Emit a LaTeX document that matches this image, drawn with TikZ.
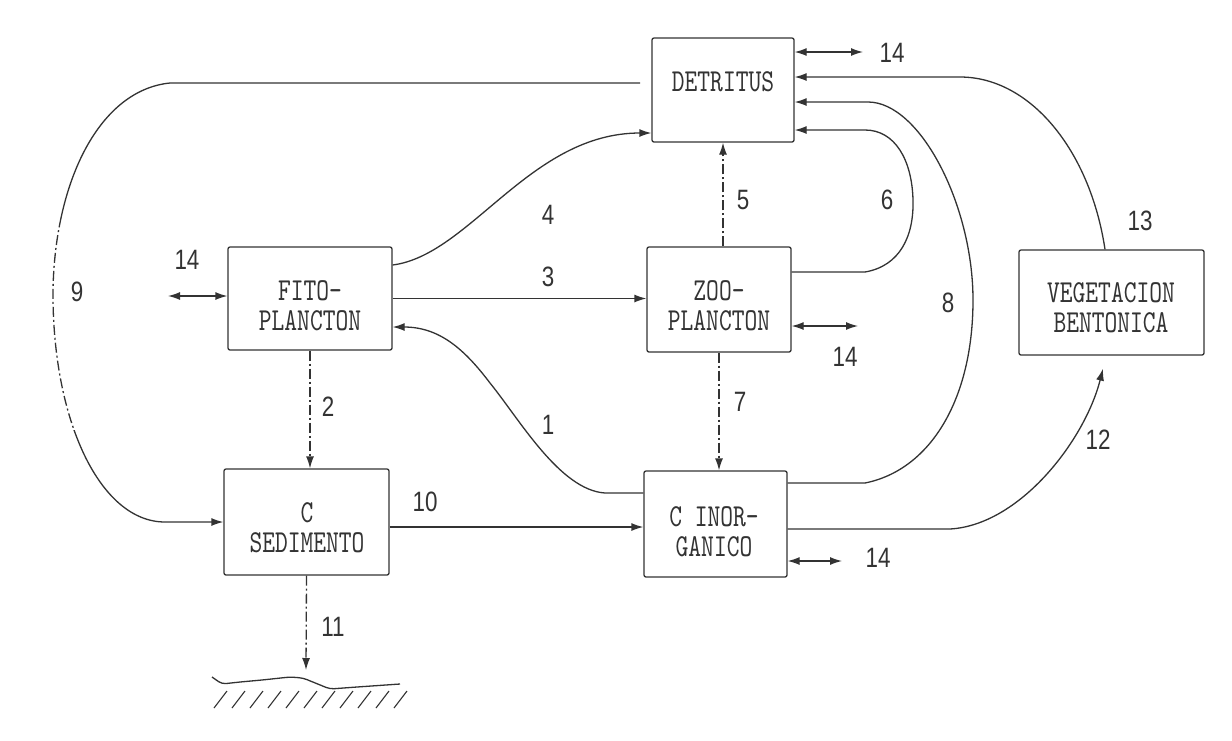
\documentclass[tikz,border=0pt]{standalone}
\usepackage{fontspec}
\usetikzlibrary{arrows.meta,calc}
\newfontfamily\boxfont{lmmono10-regular}[Extension=.otf, FakeStretch=0.76]
\newfontfamily\numfont[FakeStretch=0.8]{Liberation Sans}
\definecolor{ink}{HTML}{333333}
\begin{document}
\begin{tikzpicture}[x=1pt,y=-1pt,
  box/.style={draw=ink, line width=1.3pt, rounded corners=2pt, inner sep=0pt},
  flow/.style={draw=ink, line width=1.3pt, -{Latex[length=12pt,width=8pt]}},
  dflow/.style={flow, dash pattern=on 10pt off 3pt on 2pt off 3pt},
  two/.style={draw=ink, line width=1.3pt, {Latex[length=12pt,width=8pt]}-{Latex[length=12pt,width=8pt]}},
  lbl/.style={text=ink, font=\numfont\fontsize{28}{28}\selectfont, inner sep=0pt},
  btxt/.style={text=ink, font=\boxfont\fontsize{32}{30}\selectfont, align=center, inner sep=0pt}]
\useasboundingbox[fill=white] (0,0) rectangle (1232,740);

% boxes
\node[box, minimum width=142pt, minimum height=104pt] (det) at (723,90) {};
\node[box, minimum width=164pt, minimum height=103pt] (fito) at (310,298.5) {};
\node[box, minimum width=144pt, minimum height=105pt] (zoo) at (719,299.5) {};
\node[box, minimum width=185pt, minimum height=105pt] (veg) at (1111.5,302.5) {};
\node[box, minimum width=165pt, minimum height=106pt] (sed) at (306.5,522) {};
\node[box, minimum width=143pt, minimum height=106pt] (inor) at (715.5,524) {};

% box texts
\node[btxt] (dett) at (723,82) {DETRITUS};
\node[btxt] (fitot) at (310,306) {FITO-\\PLANCTON};
\node[btxt] (zoot) at (719,306) {ZOO-\\PLANCTON};
\node[btxt] (vegt) at (1111,307.5) {VEGETACION\\BENTONICA};
\node[btxt] (sedt) at (307,528) {C\\SEDIMENTO};
\node[btxt] (inort) at (714,532) {C INOR-\\GANICO};

% coordinates for free ends
\coordinate (gnd) at (306,670);
\coordinate (e14d) at (863,52);
\coordinate (e14f) at (168,296);
\coordinate (e14z) at (858,326);
\coordinate (e14i) at (842,561);
\coordinate (s10) at ($(sed.east)+(0,5)$);

% 3
\draw[flow] (fito.east) -- (fito.east -| zoo.west);
% 4
\draw[flow] ($(fito.east)+(0,-33.5)$) .. controls (470,255) and (530,133) .. ($(det.west)+(0,43)$);
% 5
\draw[dflow] (det.south |- zoo.north) -- (det.south);
% 6
\draw[flow] ($(zoo.east)+(0,-27.5)$) -- (865,272) .. controls (900,266) and (914,236) .. (913,200) .. controls (912,160) and (895,130) .. (865,130) -- ($(det.east)+(0,40)$);
% 7
\draw[dflow] (zoo.south) -- (zoo.south |- inor.north);
% 8
\draw[flow] ($(inor.east)+(0,-41)$) -- (865,483) .. controls (930,470) and (973,400) .. (973,300) .. controls (973,205) and (920,102) .. (868,102) -- ($(det.east)+(0,12)$);
% 9
\begin{scope}
\clip (0,0) rectangle (640,227) (0,430) rectangle (640,740);
\draw[flow] ($(det.west)+(0,-7)$) -- (170,83) .. controls (100,90) and (55,180) .. (53,290) .. controls (52,420) and (100,522) .. (165,522) -- (sed.west);
\end{scope}
\begin{scope}
\clip (0,227) rectangle (640,430);
\draw[draw=ink, line width=1.3pt, dash pattern=on 10pt off 3pt on 2pt off 3pt] ($(det.west)+(0,-7)$) -- (170,83) .. controls (100,90) and (55,180) .. (53,290) .. controls (52,420) and (100,522) .. (165,522) -- (sed.west);
\end{scope}
% 10
\draw[flow] (s10) -- (s10 -| inor.west);
% 1
\draw[flow] ($(inor.west)+(0,-31)$) -- (605,493) .. controls (560,490) and (520,420) .. (490,383) .. controls (465,350) and (440,327) .. ($(fito.east)+(0,28.5)$);
% 12
\draw[flow] ($(inor.east)+(0,5)$) -- (950,529) .. controls (1020,525) and (1085,440) .. ($(veg.south)+(-8.5,13)$);
% 13
\draw[flow] ($(veg.north)+(-6.5,0)$) .. controls (1090,150) and (1030,77) .. (960,77) -- ($(det.east)+(0,-13)$);
% 2
\draw[dflow] (fito.south) -- (fito.south |- sed.north);
% 11
\draw[dflow] (sed.south) -- (gnd);
% 14s
\draw[two] ($(det.east)+(0,-38)$) -- (e14d);
\draw[two] (e14f) -- ($(fito.west)+(0,-2.5)$);
\draw[two] ($(zoo.east)+(0,26.5)$) -- (e14z);
\draw[two] ($(inor.east)+(0,37)$) -- (e14i);

% ground
\draw[ink, line width=1.3pt, rounded corners=4pt] (212,677) -- (222,684) -- (240,682) -- (262,680) -- (290,677) -- (303,678) -- (330,689) -- (357,687) -- (400,684);
\foreach \x in {214,232,...,394} \draw[ink, line width=1.1pt] (\x,708) -- (\x+13,691);

% labels
\node[lbl] at (548,277) {3};
\node[lbl] at (548,215) {4};
\node[lbl] at (743,200) {5};
\node[lbl] at (887,200) {6};
\node[lbl] at (948,303) {8};
\node[lbl] at (77,292) {9};
\node[lbl] at (1140,221) {13};
\node[lbl] at (548,425) {1};
\node[lbl] at (328,407) {2};
\node[lbl] at (740,402) {7};
\node[lbl] at (425,502) {10};
\node[lbl] at (1098,440) {12};
\node[lbl] at (333,627) {11};
\node[lbl] at (892,53) {14};
\node[lbl] at (187,260) {14};
\node[lbl] at (845,357) {14};
\node[lbl] at (878,558) {14};
\end{tikzpicture}
\end{document}
